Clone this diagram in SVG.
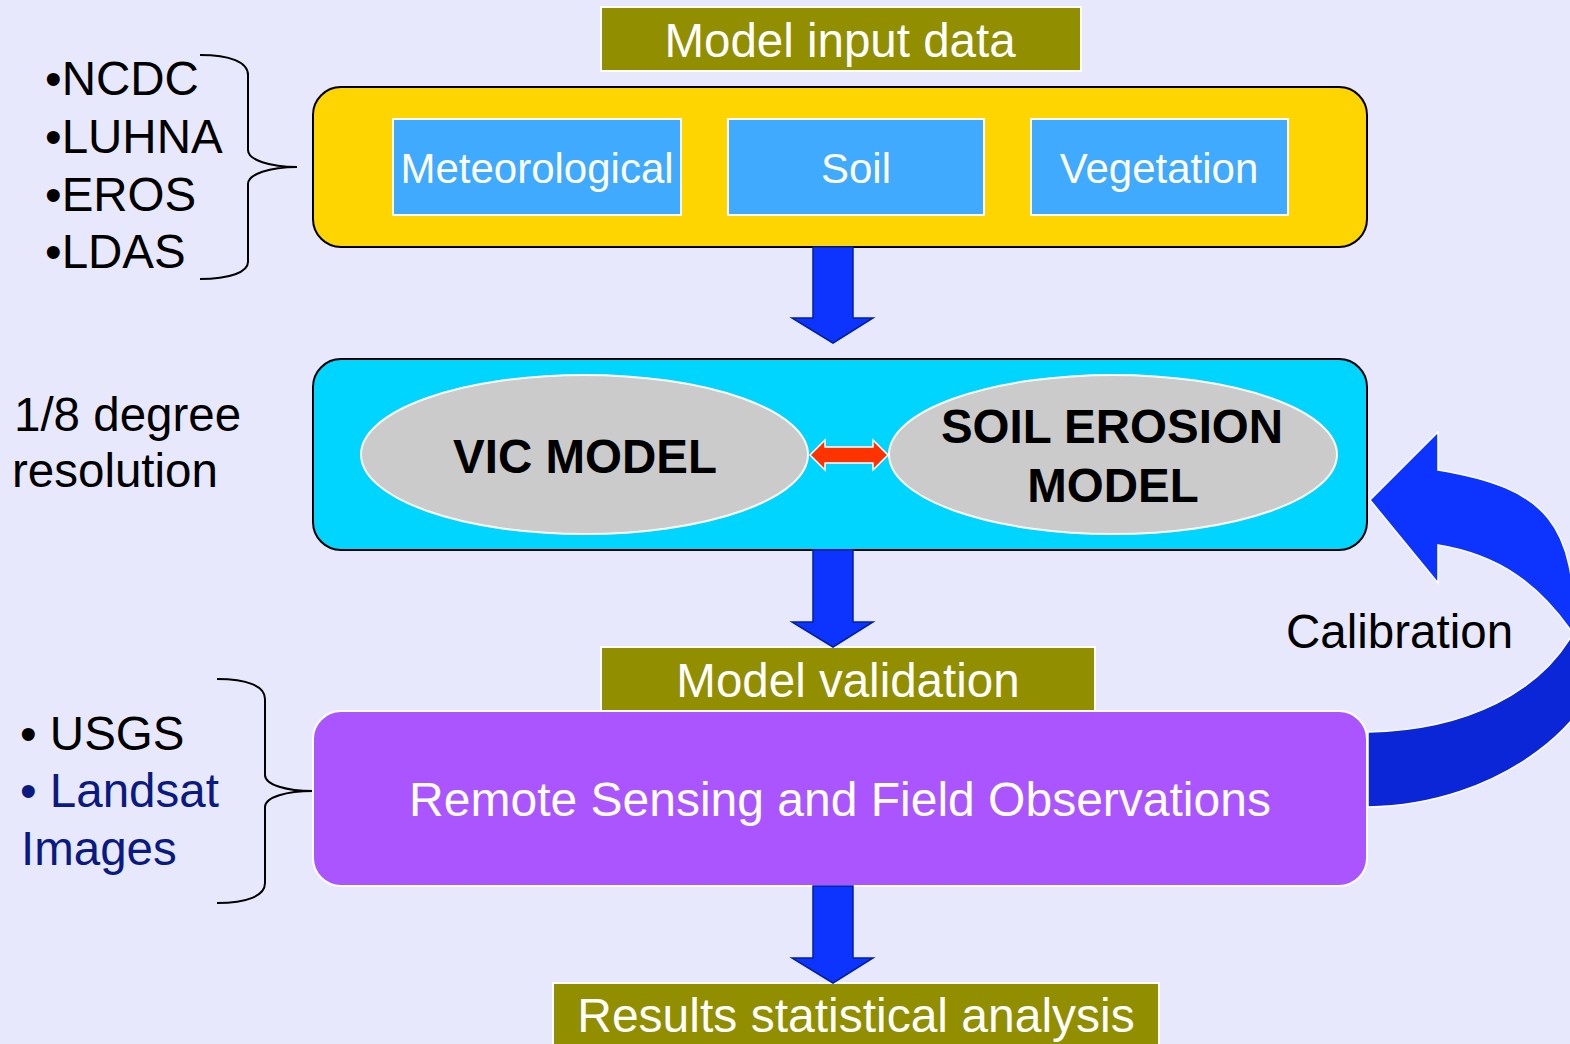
<svg xmlns="http://www.w3.org/2000/svg" width="1570" height="1044" viewBox="0 0 1570 1044">
<style>
.t{font-family:"Liberation Sans",Arial,sans-serif}
.w{fill:#fff}
.k{fill:#000}
.olive{fill:#918E00;stroke:#fff;stroke-width:2}
.inner{fill:#40AAFF;stroke:#fff;stroke-width:2}
.ell{fill:#CBCBCB;stroke:#fff;stroke-width:2}
.down{fill:#0D33FF;stroke:#0020A0;stroke-width:1.5}
.brace{fill:none;stroke:#000;stroke-width:2}
</style>
<rect width="1570" height="1044" fill="#E8E8FC"/>

<g id="left-sources" class="t k" font-size="47.5">
  <text x="45" y="95">•NCDC</text>
  <text x="45" y="153">•LUHNA</text>
  <text x="45" y="211">•EROS</text>
  <text x="45" y="268">•LDAS</text>
  <path class="brace" d="M200,55 C230,55 248,62 248,75 V150 C248,160 270,167 297,167 C270,167 248,174 248,184 V262 C248,272 230,279 200,279"/>
</g>

<g id="resolution" class="t k" font-size="47.5">
  <text x="14" y="431">1/8 degree</text>
  <text x="12" y="487">resolution</text>
</g>

<g id="validation-sources" class="t" font-size="47.5">
  <text x="20" y="750" fill="#000">• USGS</text>
  <text x="20" y="807" fill="#0A1A80">• Landsat</text>
  <text x="21" y="865" fill="#0A1A80">Images</text>
  <path class="brace" d="M217,679 C247,679 265,686 265,699 V775 C265,785 287,791 313,791 C287,791 265,797 265,807 V883 C265,896 247,903 217,903"/>
</g>

<g id="model-input-data">
  <rect class="olive" x="601" y="7" width="480" height="64"/>
  <text class="t w" x="840" y="57" font-size="47.5" text-anchor="middle">Model input data</text>
</g>

<g id="input-box">
  <rect x="313" y="87" width="1054" height="160" rx="28" fill="#FFD500" stroke="#000" stroke-width="2"/>
</g>
<g id="meteorological">
  <rect class="inner" x="393" y="119" width="288" height="96"/>
  <text class="t w" x="537" y="183" font-size="42" text-anchor="middle">Meteorological</text>
</g>
<g id="soil">
  <rect class="inner" x="728" y="119" width="256" height="96"/>
  <text class="t w" x="856" y="183" font-size="42" text-anchor="middle">Soil</text>
</g>
<g id="vegetation">
  <rect class="inner" x="1031" y="119" width="257" height="96"/>
  <text class="t w" x="1159" y="183" font-size="42" text-anchor="middle">Vegetation</text>
</g>

<g id="model-box">
  <rect x="313" y="359" width="1054" height="191" rx="28" fill="#00D5FF" stroke="#000" stroke-width="2"/>
</g>
<g id="vic-model">
  <ellipse class="ell" cx="584.5" cy="454.5" rx="223.5" ry="79.5"/>
  <text class="t k" x="585" y="473" font-size="47.5" font-weight="bold" text-anchor="middle">VIC MODEL</text>
</g>
<g id="soil-erosion-model">
  <ellipse class="ell" cx="1113" cy="454.5" rx="224" ry="79.5"/>
  <text class="t k" x="1112" y="443" font-size="47.5" font-weight="bold" text-anchor="middle">SOIL EROSION</text>
  <text class="t k" x="1113" y="502" font-size="47.5" font-weight="bold" text-anchor="middle">MODEL</text>
</g>

<g id="calibration-label">
  <text class="t k" x="1286" y="648" font-size="47.5">Calibration</text>
</g>

<g id="model-validation">
  <rect class="olive" x="601" y="647" width="494" height="64"/>
  <text class="t w" x="848" y="697" font-size="47.5" text-anchor="middle">Model validation</text>
</g>

<g id="remote-sensing">
  <rect x="313" y="711" width="1054" height="175" rx="28" fill="#AA55FF" stroke="#fff" stroke-width="2"/>
  <text class="t w" x="840" y="816" font-size="48" text-anchor="middle">Remote Sensing and Field Observations</text>
</g>

<g id="results">
  <rect class="olive" x="553" y="983" width="606" height="70"/>
  <text class="t w" x="856" y="1032" font-size="48" text-anchor="middle">Results statistical analysis</text>
</g>

<g id="connectors">
  <path class="down" d="M813,247 H853 V318 H873 L833,343 L792,318 H813 Z"/>
  <path class="down" d="M813,550 H853 V622 H873 L833,647 L792,622 H813 Z"/>
  <path class="down" d="M813,886 H853 V958 H873 L833,983 L792,958 H813 Z"/>
  <path d="M810,455 L825,440 V447 H873 V440 L888,455 L873,470 V463 H825 V470 Z" fill="#FF3300" stroke="#fff" stroke-width="1.5"/>
  <g id="calibration-arrow" stroke="#fff" stroke-width="1.5">
    <path d="M1572,635 L1610,635 C1605,720 1500,805 1368,807 L1368,732 C1470,730 1540,690 1572,635 Z" fill="#0A26D6"/>
    <path d="M1438,470 C1548,488 1576,525 1574,635 C1540,585 1500,555 1438,545 L1438,583 L1370,500 L1438,432 Z" fill="#0D33FF"/>
  </g>
</g>
</svg>
